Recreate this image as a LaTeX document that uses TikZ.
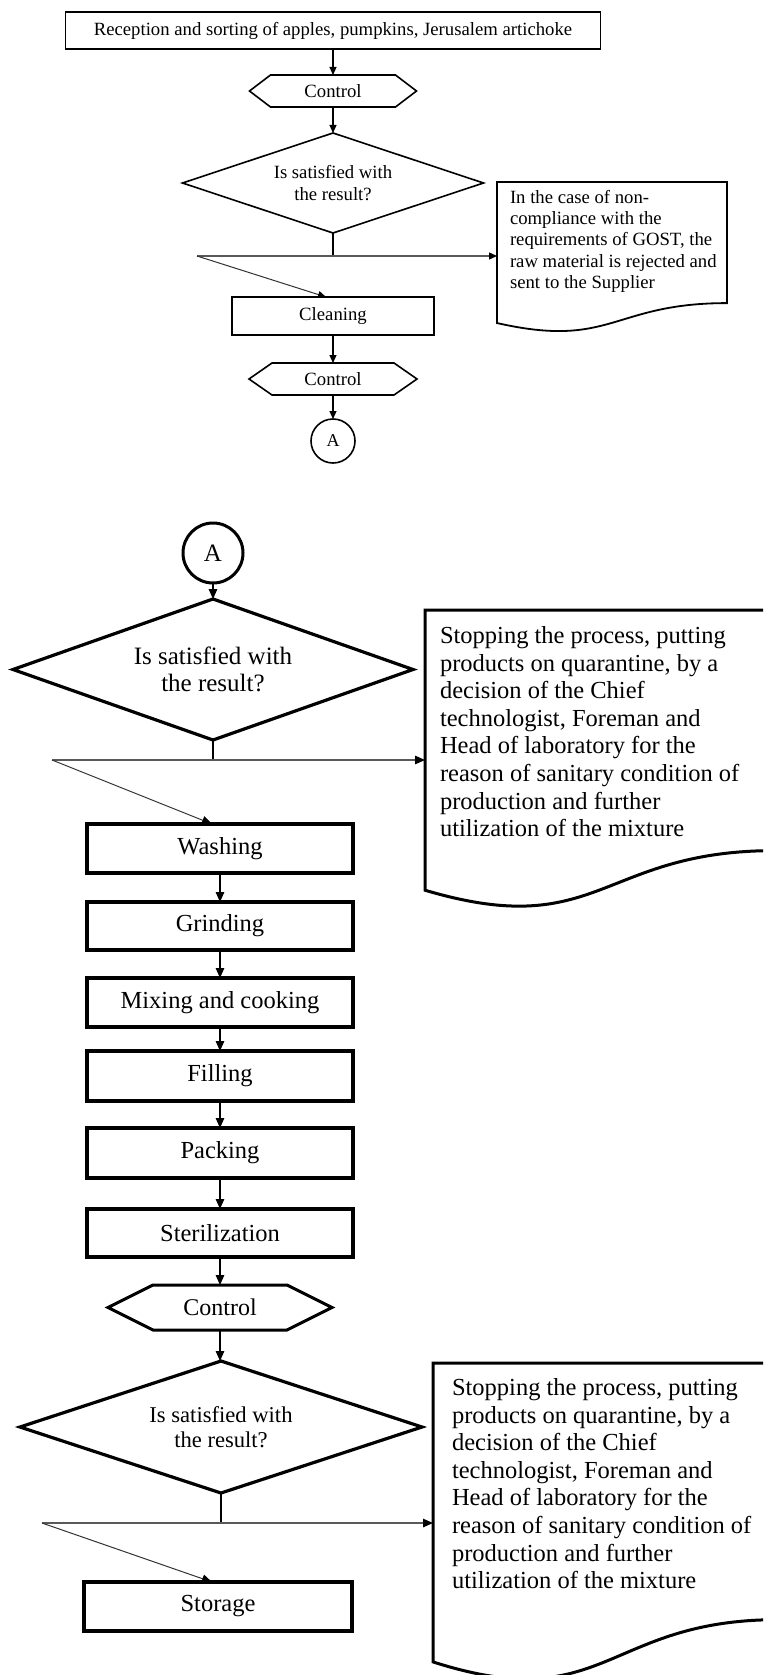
\documentclass[tikz,border=0pt]{standalone}
\usepackage{fontspec}
\setmainfont{Liberation Serif}
\usetikzlibrary{shapes.geometric,arrows.meta,calc}

% hexagon: name, position, width, height, inset, line width, font style, text
\newcommand\hexbox[8]{%
  \node[inner sep=0pt, outer sep=0pt, minimum width=#3, minimum height=#4, #7] (#1) at #2 {#8};
  \draw[line width=#6] ([xshift=#5]#1.north west) -- ([xshift=-#5]#1.north east) -- (#1.east)
     -- ([xshift=-#5]#1.south east) -- ([xshift=#5]#1.south west) -- (#1.west) -- cycle;}

% document shape: name, left, top, width, height, line width
\newcommand\docbox[6]{%
  \node[inner sep=0pt, outer sep=0pt, minimum width=#4pt, minimum height=#5pt] (#1) at ({#2+#4/2},{#3+#5/2}) {};
  \draw[line width=#6, line join=miter] (#2,#3) -- ({#2+#4},#3) -- ({#2+#4},{#3+0.802*#5})
     .. controls ({#2+0.5*#4},{#3+0.802*#5}) and ({#2+0.5*#4},{#3+1.107*#5}) .. (#2,{#3+0.934*#5}) -- cycle;}

\begin{document}
\begin{tikzpicture}[x=1pt, y=-1pt,
  topfont/.style={font=\fontsize{18.7}{21.4}\selectfont},
  lowfont/.style={font=\fontsize{24.5}{27.6}\selectfont},
  tbox/.style={draw, rectangle, line width=1.6pt, inner sep=0pt, outer sep=0pt, topfont},
  lbox/.style={draw, rectangle, line width=3.2pt, inner sep=0pt, outer sep=0pt, lowfont,
               minimum width=266pt, minimum height=48pt},
  tdia/.style={draw, diamond, line width=1.6pt, inner sep=0pt, outer sep=0pt, align=center, topfont},
  ldia/.style={draw, diamond, line width=3.2pt, inner sep=0pt, outer sep=0pt, align=center},
  doctext/.style={anchor=north west, align=left, inner sep=0pt, outer sep=0pt},
  tarr/.style={line width=1.1pt, -{Triangle[length=8pt,width=7pt]}},
  larr/.style={line width=1.4pt, -{Triangle[length=10pt,width=8.5pt]}},
  ttip/.style={-{Triangle[length=8pt,width=7pt,color=black]}},
  ltip/.style={-{Triangle[length=10pt,width=8.5pt,color=black]}},
  tline/.style={line width=1.1pt},
  lline/.style={line width=1.3pt},
  branch/.style={line width=1.3pt, draw=black!65},
  diag/.style={line width=1pt, draw=black!80}
]
\clip (0,0) rectangle (763,1675);
\fill[white] (0,0) rectangle (763,1675);

% ---------------- top section ----------------
\node[tbox, minimum width=535pt, minimum height=37pt] (recv) at (333,30.5)
  {Reception and sorting of apples, pumpkins, Jerusalem artichoke};
\hexbox{ctl1}{(333,91)}{167pt}{32pt}{21pt}{1.6pt}{topfont}{Control}
\node[tdia, minimum width=301pt, minimum height=100pt, aspect=3] (dia1) at (333,183)
  {Is satisfied with\\the result?};
\coordinate (L1) at (197,256);
\docbox{doc1}{497}{182}{230}{151}{1.8pt}
\node[doctext, topfont] (doc1t) at (510,190)
  {In the case of non-\\compliance with the\\requirements of GOST, the\\raw material is rejected and\\sent to the Supplier};
\node[tbox, minimum width=202pt, minimum height=38pt] (clean) at (333,316) {Cleaning};
\hexbox{ctl2}{(333,379)}{168pt}{32pt}{23pt}{1.6pt}{topfont}{Control}
\node[draw, circle, line width=1.6pt, minimum size=44pt, inner sep=0pt, outer sep=0pt,
      font=\fontsize{18}{20}\selectfont] (A1) at (333,441) {A};

\draw[tarr] (recv.south) -- (ctl1.north);
\draw[tarr] (ctl1.south) -- (dia1.north);
\draw[tline] (dia1.south) -- (dia1.south |- L1);
\draw[branch, ttip] (L1) -- (L1 -| doc1.west);
\draw[diag, ttip] (L1) -- ([xshift=-7pt]clean.north);
\draw[tarr] (clean.south) -- (ctl2.north);
\draw[tarr] (ctl2.south) -- (A1.north);

% ---------------- second section ----------------
\node[draw, circle, line width=3pt, minimum size=60pt, inner sep=0pt, outer sep=0pt,
      font=\fontsize{25}{28}\selectfont] (A2) at (213,553) {A};
\node[ldia, minimum width=400pt, minimum height=141pt, aspect=2.8,
      font=\fontsize{25}{27}\selectfont] (dia2) at (213,669.5) {Is satisfied with\\the result?};
\coordinate (L2) at (52,760);
\docbox{doc2}{425}{610}{350}{300}{3pt}
\node[doctext, lowfont] (doc2t) at (440,626.5)
  {Stopping the process, putting\\products on quarantine, by a\\decision of the Chief\\technologist, Foreman and\\Head of laboratory for the\\reason of sanitary condition of\\production and further\\utilization of the mixture};

\node[lbox, minimum height=49pt] (wash) at (220,848.5) {Washing};
\node[lbox] (grind) at (220,926) {Grinding};
\node[lbox, minimum height=49pt] (mix) at (220,1002.5) {Mixing and cooking};
\node[lbox, minimum height=50pt] (fill) at (220,1076) {Filling};
\node[lbox, minimum height=50pt] (pack) at (220,1153) {Packing};
\node[lbox] (steril) at (220,1233) {Sterilization};
\hexbox{ctl3}{(220,1307.5)}{224pt}{45pt}{45pt}{3pt}{font=\fontsize{24}{27}\selectfont}{Control}
\node[ldia, minimum width=402pt, minimum height=132pt, aspect=3,
      font=\fontsize{22.6}{25}\selectfont] (dia3) at (221,1427) {Is satisfied with\\the result?};
\coordinate (L3) at (42,1523);
\docbox{doc3}{433}{1363}{345}{320}{3pt}
\node[doctext, lowfont] (doc3t) at (452,1378.5)
  {Stopping the process, putting\\products on quarantine, by a\\decision of the Chief\\technologist, Foreman and\\Head of laboratory for the\\reason of sanitary condition of\\production and further\\utilization of the mixture};
\node[lbox, minimum width=268pt, minimum height=49pt] (store) at (218,1606.5) {Storage};

\draw[larr] (A2.south) -- (dia2.north);
\draw[lline] (dia2.south) -- (dia2.south |- L2);
\draw[branch, ltip] (L2) -- (L2 -| doc2.west);
\draw[diag, ltip] (L2) -- ([xshift=-8pt]wash.north);
\draw[larr] (wash.south) -- (grind.north);
\draw[larr] (grind.south) -- (mix.north);
\draw[larr] (mix.south) -- (fill.north);
\draw[larr] (fill.south) -- (pack.north);
\draw[larr] (pack.south) -- (steril.north);
\draw[larr] (steril.south) -- (ctl3.north);
\draw[larr] (ctl3.south) -- (ctl3.south |- dia3.north);
\draw[lline] (dia3.south) -- (dia3.south |- L3);
\draw[branch, ltip] (L3) -- (L3 -| doc3.west);
\draw[diag, ltip] (L3) -- ([xshift=-6pt]store.north);
\end{tikzpicture}
\end{document}
